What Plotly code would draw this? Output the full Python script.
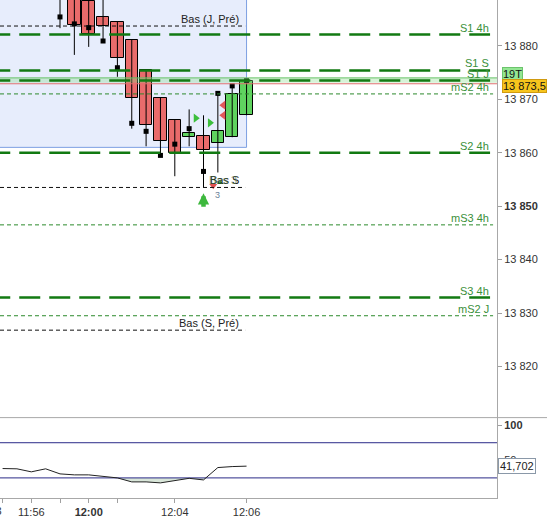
import plotly.graph_objects as go

# ---------------- data ----------------
candle_idx = list(range(14))
opens  = [13892.0, 13890.0, 13888.3, 13885.4, 13884.5, 13881.1, 13875.5, 13870.3, 13866.2, 13863.0, 13863.2, 13861.9, 13862.9, 13867.0]
highs  = [13893.0, 13891.0, 13890.0, 13889.5, 13884.5, 13881.1, 13875.5, 13870.3, 13866.2, 13868.1, 13867.0, 13871.2, 13872.5, 13873.7]
lows   = [13883.3, 13878.3, 13879.8, 13880.6, 13874.2, 13864.5, 13861.2, 13859.3, 13855.6, 13861.2, 13853.5, 13856.3, 13862.9, 13867.0]
closes = [13890.0, 13883.9, 13882.2, 13883.7, 13877.8, 13870.3, 13865.1, 13862.1, 13859.9, 13863.6, 13860.6, 13864.0, 13870.9, 13873.5]
square_vals = [13885.4, 13884.1, 13883.4, 13880.9, 13875.9, 13865.5, 13864.0, 13859.5, 13861.6, 13864.5, 13856.5, 13871.1, 13872.5, 13873.5]

osc_idx = list(range(-4, 14))
osc_vals = [38.3, 37.9, 33.6, 37.9, 30.7, 29.3, 29.3, 27.3, 25.0, 19.3, 19.3, 17.9, 21.6, 24.4, 22.1, 39.7, 41.1, 41.702]
osc_levels = [75, 25]

thick_names  = ["S1 4h", "S1 S", "S1 J", "S2 4h", "S3 4h"]
thick_values = [13882.1, 13875.4, 13873.5, 13860.0, 13832.9]
thin_names   = ["mS2 4h", "mS3 4h", "mS2 J"]
thin_values  = [13871.0, 13846.5, 13829.5]
bas_names    = ["Bas (J, Pré)", "Bas S", "Bas (S, Pré)"]
bas_values   = [13883.7, 13853.5, 13826.8]

zone_low = 13861.0          # blue zone bottom
zone_end_idx = 13           # zone ends at last candle
band_top, band_bottom, red_line = 13874.0, 13873.1, 13872.9
last_price = 13873.5
last_price_text = "13 873,5"
timer_text = "19T"
osc_last_text = "41,702"

tri_right_x = [9.46, 10.45]
tri_right_y = [13866.45, 13865.6]
tri_left_x = [11.38, 11.38]
tri_left_y = [13868.9, 13867.0]
arrow_up_x, arrow_up_y = 10, 13852.4
red_down_x, red_down_y = 10.68, 13853.8
small_green_x, small_green_y = 11.15, 13854.4

y_ticks = [13820, 13830, 13840, 13850, 13860, 13870, 13880]
y_tick_text = ["13 820", "13 830", "13 840", "<b>13 850</b>", "13 860", "13 870", "13 880"]
osc_ticks = [50, 100]
osc_tick_text = ["50", "<b>100</b>"]
x_ticks = [-4, -2, 0, 2, 4, 8, 13]
x_tick_text = ["", "11:56", "", "<b>12:00</b>", "", "12:04", "12:06"]
first_label = "11:53"

# ---------------- figure ----------------
FONT = "Liberation Sans, Arial, sans-serif"
GREEN_DASH = "#127a12"
GREEN_TXT = "#3a8f3a"
fig = go.Figure()

# wicks
wx, wy = [], []
for i, h, l in zip(candle_idx, highs, lows):
    wx += [i, i, None]
    wy += [l, h, None]
fig.add_trace(go.Scatter(x=wx, y=wy, mode="lines", line=dict(color="black", width=1),
                         hoverinfo="skip", showlegend=False))
# bodies
body_base = [min(o, c) for o, c in zip(opens, closes)]
body_h = [max(abs(c - o), 0.25) for o, c in zip(opens, closes)]
body_col = ["#5fd35f" if c >= o else "#e96b6b" for o, c in zip(opens, closes)]
fig.add_trace(go.Bar(x=candle_idx, y=body_h, base=body_base, width=0.87,
                     marker=dict(color=body_col, line=dict(color="black", width=1)),
                     showlegend=False, hoverinfo="skip"))
# squares
fig.add_trace(go.Scatter(x=candle_idx, y=square_vals, mode="markers",
                         marker=dict(symbol="square", size=5, color="black"),
                         showlegend=False, hoverinfo="skip"))
fig.add_trace(go.Scatter(x=tri_right_x, y=tri_right_y, mode="markers",
                         marker=dict(symbol="triangle-right", size=8, color="#3cbf3c"),
                         showlegend=False, hoverinfo="skip"))
fig.add_trace(go.Scatter(x=tri_left_x, y=tri_left_y, mode="markers",
                         marker=dict(symbol="triangle-left", size=8, color="#e25a5a"),
                         showlegend=False, hoverinfo="skip"))
fig.add_trace(go.Scatter(x=[red_down_x], y=[red_down_y], mode="markers",
                         marker=dict(symbol="triangle-down", size=7, color="#e05050"),
                         showlegend=False, hoverinfo="skip"))
fig.add_trace(go.Scatter(x=[small_green_x], y=[small_green_y], mode="markers",
                         marker=dict(symbol="triangle-up", size=5, color="#30a030"),
                         showlegend=False, hoverinfo="skip"))

# oscillator fill below lower level
lvl = osc_levels[1]
fx, fy = [], []
for k in range(len(osc_idx)):
    if k > 0:
        x0, v0 = osc_idx[k - 1], osc_vals[k - 1]
        x1, v1 = osc_idx[k], osc_vals[k]
        if (v0 - lvl) * (v1 - lvl) < 0:
            fx.append(x0 + (lvl - v0) * (x1 - x0) / (v1 - v0))
            fy.append(lvl)
    fx.append(osc_idx[k])
    fy.append(min(osc_vals[k], lvl))
fig.add_trace(go.Scatter(x=fx, y=[lvl] * len(fx), yaxis="y2", mode="lines",
                         line=dict(width=0), showlegend=False, hoverinfo="skip"))
fig.add_trace(go.Scatter(x=fx, y=fy, yaxis="y2", mode="lines", fill="tonexty",
                         fillcolor="#d9e6d9", line=dict(width=0), showlegend=False, hoverinfo="skip"))
for lv in osc_levels:
    fig.add_trace(go.Scatter(x=[-10, 40], y=[lv, lv], yaxis="y2", mode="lines",
                             line=dict(color="#2b2b88", width=1), showlegend=False, hoverinfo="skip"))
fig.add_trace(go.Scatter(x=osc_idx, y=osc_vals, yaxis="y2", mode="lines",
                         line=dict(color="#222222", width=1), showlegend=False, hoverinfo="skip"))

shapes = []
# blue zone
shapes.append(dict(type="rect", xref="x", yref="y", x0=-10, x1=zone_end_idx, y0=zone_low, y1=13900,
                   fillcolor="#e7edfc", line=dict(color="#7c9fe2", width=1), layer="below"))
# current price band
shapes.append(dict(type="rect", xref="x", yref="y", x0=-10, x1=40, y0=band_bottom, y1=band_top,
                   fillcolor="rgba(140,220,140,0.35)", line=dict(width=0), layer="above"))
shapes.append(dict(type="line", xref="x", yref="y", x0=-10, x1=40, y0=band_top, y1=band_top,
                   line=dict(color="#66c266", width=1), layer="above"))
shapes.append(dict(type="line", xref="x", yref="y", x0=-10, x1=40, y0=red_line, y1=red_line,
                   line=dict(color="#e07070", width=1), layer="above"))
for v in thick_values:
    shapes.append(dict(type="line", xref="x", yref="y", x0=-4.93, x1=29.97, y0=v, y1=v,
                       line=dict(color=GREEN_DASH, width=2.5, dash="21px,9px"), layer="above"))
for v in thin_values:
    shapes.append(dict(type="line", xref="x", yref="y", x0=-4.18, x1=30.18, y0=v, y1=v,
                       line=dict(color="#2c8a2c", width=1, dash="4px,3px"), layer="above"))
for v in bas_values:
    shapes.append(dict(type="line", xref="x", yref="y", x0=-4.18, x1=12.9, y0=v, y1=v,
                       line=dict(color="#111111", width=1, dash="4px,3px"), layer="above"))
# panel separator
shapes.append(dict(type="line", xref="paper", yref="paper", x0=0, x1=1.11, y0=0.1614, y1=0.1614,
                   line=dict(color="#a8a8a8", width=1), layer="above"))

ann = []
for n, v in zip(thick_names + thin_names, thick_values + thin_values):
    ann.append(dict(x=30.03, y=v, xref="x", yref="y", text=n, showarrow=False, xanchor="right",
                    yanchor="middle", yshift=7, font=dict(family=FONT, size=11, color=GREEN_TXT)))
for n, v in zip(bas_names, bas_values):
    ann.append(dict(x=12.59, y=v, xref="x", yref="y", text=n, showarrow=False, xanchor="right",
                    yanchor="middle", yshift=7, font=dict(family=FONT, size=11, color="#222222")))
ann.append(dict(x=12.59, y=bas_values[1], xref="x", yref="y", text="Bas 3", showarrow=False, xanchor="right",
                yanchor="middle", yshift=7, xshift=-2, font=dict(family=FONT, size=11, color="rgba(40,90,40,0.6)")))
ann.append(dict(x=10.96, y=13852.1, xref="x", yref="y", text="3", showarrow=False,
                font=dict(family=FONT, size=9, color="#6a7f99")))
# big green arrow
ann.append(dict(x=arrow_up_x, y=arrow_up_y, xref="x", yref="y", ax=0, ay=15, text="", showarrow=True,
                arrowhead=2, arrowsize=0.5, arrowwidth=4.5, arrowcolor="#3db83d", standoff=0))
# axis boxes
ann.append(dict(x=1.0, y=band_top + 0.65, xref="paper", yref="y", text=timer_text, showarrow=False,
                xanchor="left", yanchor="middle", xshift=5, bgcolor="#93e693", bordercolor="#6cc46c",
                borderwidth=1, borderpad=0, font=dict(family=FONT, size=11, color="#111111")))
ann.append(dict(x=1.0, y=last_price - 0.95, xref="paper", yref="y", text=last_price_text, showarrow=False,
                xanchor="left", yanchor="middle", xshift=5, bgcolor="#f7c51d", bordercolor="#d09a10",
                borderwidth=1, borderpad=0, font=dict(family=FONT, size=11, color="#111111")))
ann.append(dict(x=1.0, y=osc_vals[-1], xref="paper", yref="y2", text=osc_last_text, showarrow=False,
                xanchor="left", yanchor="middle", xshift=1, bgcolor="white", bordercolor="#8a98a8",
                borderwidth=1, borderpad=1, font=dict(family=FONT, size=11, color="#222222")))
ann.append(dict(x=-4, y=0, xref="x", yref="paper", text=first_label, showarrow=False,
                xanchor="right", yanchor="top", xshift=1, yshift=-5,
                font=dict(family=FONT, size=11, color="#333333")))

fig.update_layout(
    width=547, height=518, margin=dict(l=0, r=50, t=0, b=18),
    paper_bgcolor="white", plot_bgcolor="white", barmode="overlay", bargap=0,
    showlegend=False, shapes=shapes, annotations=ann,
    font=dict(family=FONT, size=11, color="#333333"),
    xaxis=dict(range=[-4.181, 30.453], anchor="y2", tickvals=x_ticks, ticktext=x_tick_text,
               ticks="outside", ticklen=4, tickcolor="#a0a0a0", showgrid=False, zeroline=False,
               showline=True, linecolor="#a8a8a8", linewidth=1,
               tickfont=dict(family=FONT, size=11, color="#333333")),
    yaxis=dict(domain=[0.1614, 1], range=[13810.44, 13888.57], side="right", anchor="x",
               tickvals=y_ticks, ticktext=y_tick_text, ticks="outside", ticklen=4, tickcolor="#a0a0a0",
               showgrid=False, zeroline=False, showline=True, linecolor="#a8a8a8", linewidth=1,
               tickfont=dict(family=FONT, size=11, color="#333333")),
    yaxis2=dict(domain=[0, 0.1614], range=[-3.6, 110.7], side="right", anchor="x",
                tickvals=osc_ticks, ticktext=osc_tick_text, ticks="outside", ticklen=4, tickcolor="#a0a0a0",
                showgrid=False, zeroline=False, showline=True, linecolor="#a8a8a8", linewidth=1,
                tickfont=dict(family=FONT, size=11, color="#333333")),
)

fig.write_html("out.html", config={"displayModeBar": False},
               post_script="document.body.style.margin='0';document.body.style.overflow='hidden';")
